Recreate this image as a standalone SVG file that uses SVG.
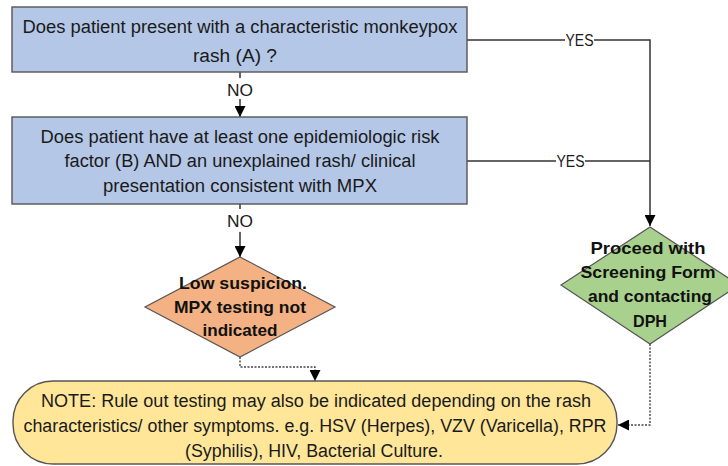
<svg xmlns="http://www.w3.org/2000/svg" width="728" height="466" viewBox="0 0 728 466">
<defs>
<style>
.box{fill:#b4c7e7;stroke:#555;stroke-width:1.4}
.t{font-family:"Liberation Sans",Arial,sans-serif;font-size:18px;fill:#1a1a1a;text-anchor:middle}
.b{font-family:"Liberation Sans",Arial,sans-serif;font-size:17px;font-weight:bold;fill:#111;text-anchor:middle}
.lbl{font-family:"Liberation Sans",Arial,sans-serif;font-size:17px;fill:#1a1a1a;text-anchor:middle;dominant-baseline:central}
.ln{fill:none;stroke:#333;stroke-width:1.5}
.dt{fill:none;stroke:#444;stroke-width:1.4;stroke-dasharray:2 1.5}
</style>
<marker id="ah2" viewBox="0 0 10 10" refX="10" refY="5" markerWidth="11" markerHeight="11" markerUnits="userSpaceOnUse" orient="auto">
<path d="M0,0 L10,5 L0,10 z" fill="#000"/>
</marker>
</defs>
<rect width="728" height="466" fill="#fff"/>
<g id="connectors">
<path class="ln" d="M240,72 V78"/>
<path class="ln" d="M240,99 V117" marker-end="url(#ah2)"/>
<text class="lbl" x="240" y="90" textLength="26" lengthAdjust="spacingAndGlyphs">NO</text>
<path class="ln" d="M240,204 V209"/>
<path class="ln" d="M240,232 V257" marker-end="url(#ah2)"/>
<text class="lbl" x="240" y="221" textLength="26" lengthAdjust="spacingAndGlyphs">NO</text>
<path class="ln" d="M467,40 H565"/>
<path class="ln" d="M594,40 H650 V226" marker-end="url(#ah2)"/>
<text class="lbl" x="579.5" y="40" textLength="28" lengthAdjust="spacingAndGlyphs">YES</text>
<path class="ln" d="M467,161 H556"/>
<path class="ln" d="M585,161 H650"/>
<text class="lbl" x="570.5" y="161" textLength="28" lengthAdjust="spacingAndGlyphs">YES</text>
<path class="dt" d="M240,357 V367 H315 V381" marker-end="url(#ah2)"/>
<path class="dt" d="M650,344 V425 H618" marker-end="url(#ah2)"/>
</g>
<g id="q1">
<rect class="box" x="12" y="7" width="455" height="65"/>
<text class="t" x="240" y="33" textLength="435" lengthAdjust="spacingAndGlyphs">Does patient present with a characteristic monkeypox</text>
<text class="t" x="235" y="62" textLength="84" lengthAdjust="spacingAndGlyphs">rash (A) ?</text>
</g>
<g id="q2">
<rect class="box" x="12" y="117" width="455" height="87"/>
<text class="t" x="240" y="143" textLength="399" lengthAdjust="spacingAndGlyphs">Does patient have  at least one epidemiologic risk</text>
<text class="t" x="240" y="167" textLength="351" lengthAdjust="spacingAndGlyphs">factor (B) AND an unexplained rash/ clinical</text>
<text class="t" x="240" y="192" textLength="274" lengthAdjust="spacingAndGlyphs">presentation consistent with MPX</text>
</g>
<g id="low">
<polygon points="240,257 335,307 240,357 145,307" fill="#f4b183" stroke="#555" stroke-width="1.2"/>
<text class="b" x="243" y="289" textLength="128" lengthAdjust="spacingAndGlyphs">Low suspicion.</text>
<text class="b" x="240" y="313" textLength="132" lengthAdjust="spacingAndGlyphs">MPX testing not</text>
<text class="b" x="240" y="336" textLength="75" lengthAdjust="spacingAndGlyphs">indicated</text>
</g>
<g id="proceed">
<polygon points="650,227 739,285 650,344 561,285" fill="#a9d18e" stroke="#555" stroke-width="1.2"/>
<text class="b" x="648" y="254" textLength="115" lengthAdjust="spacingAndGlyphs">Proceed with</text>
<text class="b" x="648" y="278" textLength="135" lengthAdjust="spacingAndGlyphs">Screening Form</text>
<text class="b" x="650" y="302" textLength="124" lengthAdjust="spacingAndGlyphs">and contacting</text>
<text class="b" x="650" y="327" textLength="34" lengthAdjust="spacingAndGlyphs">DPH</text>
</g>
<g id="note">
<rect x="13" y="381" width="604" height="83" rx="40" ry="40" fill="#ffe699" stroke="#555" stroke-width="1.4"/>
<text class="t" x="316" y="407" textLength="550" lengthAdjust="spacingAndGlyphs">NOTE: Rule out testing may also be indicated depending on the rash</text>
<text class="t" x="315" y="432" textLength="583" lengthAdjust="spacingAndGlyphs">characteristics/ other symptoms. e.g. HSV (Herpes), VZV (Varicella), RPR</text>
<text class="t" x="314" y="457" textLength="258" lengthAdjust="spacingAndGlyphs">(Syphilis), HIV, Bacterial Culture.</text>
</g>
</svg>
